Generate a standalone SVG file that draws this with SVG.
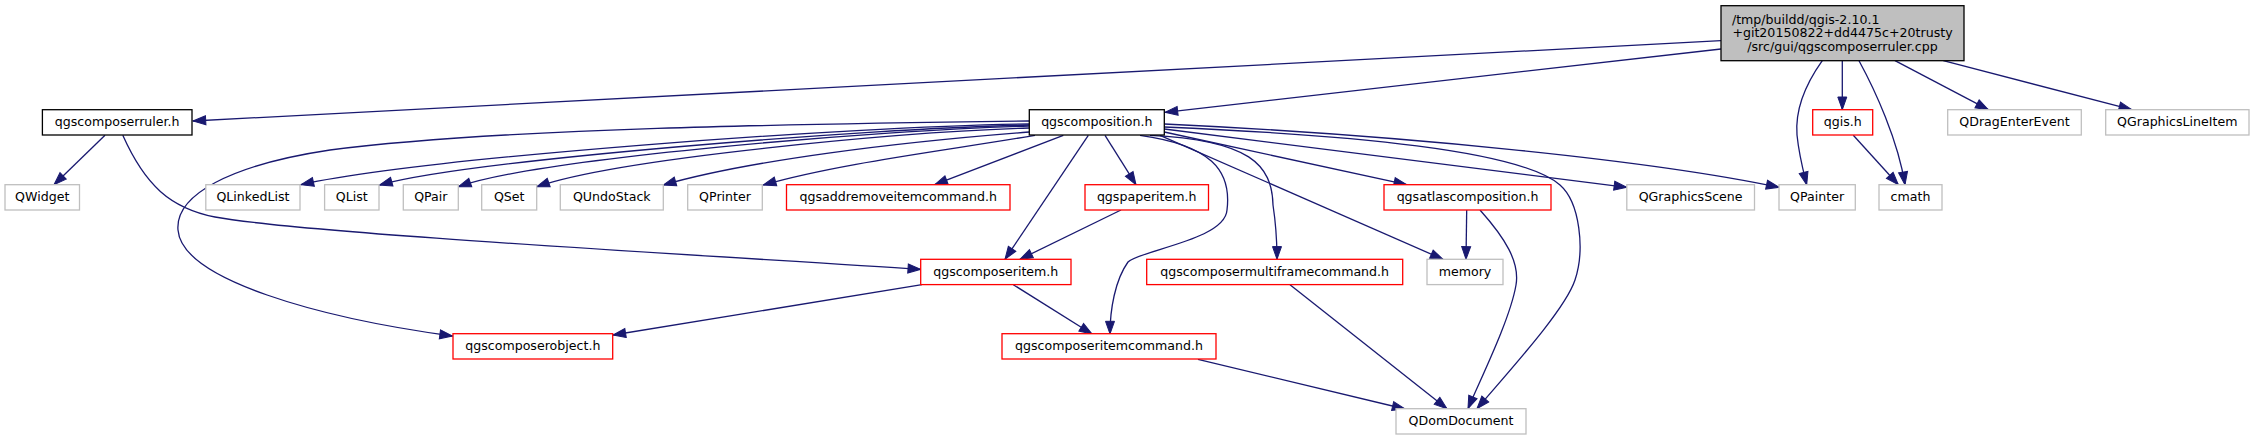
<svg xmlns="http://www.w3.org/2000/svg" width="2253" height="440" viewBox="0 0 2253 440">
<defs>
<style>
rect{stroke-width:1.3}
.g{fill:#ffffff;stroke:#bfbfbf}
.r{fill:#ffffff;stroke:#ff0000}
.b{fill:#ffffff;stroke:#000000}
.root{fill:#bfbfbf;stroke:#000000}
text{font-family:"DejaVu Sans","Liberation Sans",sans-serif;font-size:12.6px;fill:#000000;text-anchor:middle}
.e path{fill:none;stroke:#191970;stroke-width:1.3;marker-end:url(#ah)}
</style>
<marker id="ah" viewBox="0 0 13 9" refX="12.7" refY="4.5" markerWidth="13" markerHeight="9" markerUnits="userSpaceOnUse" orient="auto" overflow="visible">
<path d="M0,0 L12.7,4.5 L0,9 Z" fill="#191970" stroke="#191970" stroke-width="1"/>
</marker>
</defs>
<rect width="2253" height="440" fill="#ffffff"/>
<g id="edges" class="e">
<path d="M1721,40.7 L193,121"/>
<path d="M1721,49 L1165,112.3"/>
<path d="M1822.3,60.7 C1805,85 1795,110 1797,135 C1799,155 1803,170 1806.7,184.7"/>
<path d="M1842.3,60.7 L1842.3,109.7"/>
<path d="M1859,60.7 C1875,90 1898,140 1905,184.7"/>
<path d="M1895,60.7 L1988.3,109.7"/>
<path d="M1943.3,60.7 L2131.7,109.7"/>
<path d="M1853.3,135.3 L1898.3,184.7"/>
<path d="M105,135.3 L54,184.7"/>
<path d="M122.8,135.3 C145,185 170,208 215,217 C300,233 700,255 920.7,269.3"/>
<path d="M1029.3,121 C800,124 500,128 330,150 C230,165 175,195 178,230 C182,280 320,318 452.5,336"/>
<path d="M1029.3,124 C850,126 420,158 301,184.7"/>
<path d="M1029.3,125 C870,128 470,160 379.5,185"/>
<path d="M1029.3,126 C880,130 540,158 458.3,186.7"/>
<path d="M1029.3,128 C900,132 620,158 536.7,186.7"/>
<path d="M1029.3,132 C900,142 750,160 663.3,185"/>
<path d="M1035,135.3 C950,150 840,163 763.3,185"/>
<path d="M1063.3,135.3 L934.7,184.7"/>
<path d="M1088.3,135.3 L1005,259.3"/>
<path d="M1105,135.3 L1136,184.7"/>
<path d="M1140,135.3 C1210,145 1232,170 1227,210 C1225,240 1140,250 1128,262 C1115,280 1110,310 1110,334"/>
<path d="M1150,135.3 C1250,140 1272,165 1273,205 C1276,225 1277,245 1277,259.3"/>
<path d="M1160,135.3 L1443,259.3"/>
<path d="M1164.3,132 L1406.7,184.7"/>
<path d="M1164.3,129 L1626.8,187.3"/>
<path d="M1164.3,124 C1400,135 1650,160 1779,187.3"/>
<path d="M1164.3,127 C1350,135 1520,150 1560,185 C1580,202.5 1585,250 1575,280 C1565,310 1510,370 1477,408.7"/>
<path d="M1121,210 L1020,259.3"/>
<path d="M1466.7,210 L1466,259.3"/>
<path d="M1480,210 C1505,238 1520,262 1516,285 C1510,320 1480,380 1468,408.7"/>
<path d="M1290,284.7 L1447,408.7"/>
<path d="M1198,359.3 L1405,409"/>
<path d="M1013.3,284.7 L1092,334"/>
<path d="M922,284.7 L613,335"/>
</g>
<g id="n_root"><rect class="root" x="1721" y="5.7" width="243" height="55"/>
<text x="1731.9" y="24" style="text-anchor:start">/tmp/buildd/qgis-2.10.1</text>
<text x="1842.5" y="37.3">+git20150822+dd4475c+20trusty</text>
<text x="1842.5" y="50.7">/src/gui/qgscomposerruler.cpp</text></g>
<g id="n_ruler"><rect class="b" x="42.4" y="109.7" width="149.6" height="25.3"/><text x="117.2" y="126.2">qgscomposerruler.h</text></g>
<g id="n_composition"><rect class="b" x="1029.3" y="109.7" width="135" height="25.3"/><text x="1096.8" y="126.2">qgscomposition.h</text></g>
<g id="n_qgis"><rect class="r" x="1812.7" y="109.7" width="60" height="25.3"/><text x="1842.7" y="126.2">qgis.h</text></g>
<g id="n_qdragenterevent"><rect class="g" x="1947.7" y="109.7" width="133.6" height="25.3"/><text x="2014.5" y="126.2">QDragEnterEvent</text></g>
<g id="n_qgraphicslineitem"><rect class="g" x="2105.7" y="109.7" width="143.3" height="25.3"/><text x="2177.3" y="126.2">QGraphicsLineItem</text></g>
<g id="n_qwidget"><rect class="g" x="5" y="184.7" width="74.5" height="25.3"/><text x="42.2" y="201.2">QWidget</text></g>
<g id="n_qlinkedlist"><rect class="g" x="205.8" y="184.7" width="94.2" height="25.3"/><text x="252.9" y="201.2">QLinkedList</text></g>
<g id="n_qlist"><rect class="g" x="324.6" y="184.7" width="54.4" height="25.3"/><text x="351.8" y="201.2">QList</text></g>
<g id="n_qpair"><rect class="g" x="403.3" y="184.7" width="55" height="25.3"/><text x="430.8" y="201.2">QPair</text></g>
<g id="n_qset"><rect class="g" x="481.7" y="184.7" width="55" height="25.3"/><text x="509.2" y="201.2">QSet</text></g>
<g id="n_qundostack"><rect class="g" x="560.3" y="184.7" width="103" height="25.3"/><text x="611.8" y="201.2">QUndoStack</text></g>
<g id="n_qprinter"><rect class="g" x="687.7" y="184.7" width="74.6" height="25.3"/><text x="725" y="201.2">QPrinter</text></g>
<g id="n_qgsaddremoveitemcommand"><rect class="r" x="786.5" y="184.7" width="223.5" height="25.3"/><text x="898.2" y="201.2">qgsaddremoveitemcommand.h</text></g>
<g id="n_qgspaperitem"><rect class="r" x="1085" y="184.7" width="123.5" height="25.3"/><text x="1146.7" y="201.2">qgspaperitem.h</text></g>
<g id="n_qgsatlascomposition"><rect class="r" x="1384" y="184.7" width="167" height="25.3"/><text x="1467.5" y="201.2">qgsatlascomposition.h</text></g>
<g id="n_qgraphicsscene"><rect class="g" x="1626.8" y="184.7" width="127.7" height="25.3"/><text x="1690.6" y="201.2">QGraphicsScene</text></g>
<g id="n_qpainter"><rect class="g" x="1779" y="184.7" width="76.3" height="25.3"/><text x="1817.1" y="201.2">QPainter</text></g>
<g id="n_cmath"><rect class="g" x="1879" y="184.7" width="63" height="25.3"/><text x="1910.5" y="201.2">cmath</text></g>
<g id="n_qgscomposeritem"><rect class="r" x="920.7" y="259.3" width="150.3" height="25.3"/><text x="995.8" y="275.8">qgscomposeritem.h</text></g>
<g id="n_qgscomposermultiframecommand"><rect class="r" x="1146.7" y="259.3" width="256" height="25.3"/><text x="1274.7" y="275.8">qgscomposermultiframecommand.h</text></g>
<g id="n_memory"><rect class="g" x="1427" y="259.3" width="76" height="25.3"/><text x="1465" y="275.8">memory</text></g>
<g id="n_qgscomposerobject"><rect class="r" x="453" y="333.7" width="159.7" height="25.3"/><text x="532.8" y="350.2">qgscomposerobject.h</text></g>
<g id="n_qgscomposeritemcommand"><rect class="r" x="1002" y="333.7" width="214" height="25.3"/><text x="1109" y="350.2">qgscomposeritemcommand.h</text></g>
<g id="n_qdomdocument"><rect class="g" x="1396" y="408.7" width="130" height="25.3"/><text x="1461" y="425.2">QDomDocument</text></g>
</svg>
